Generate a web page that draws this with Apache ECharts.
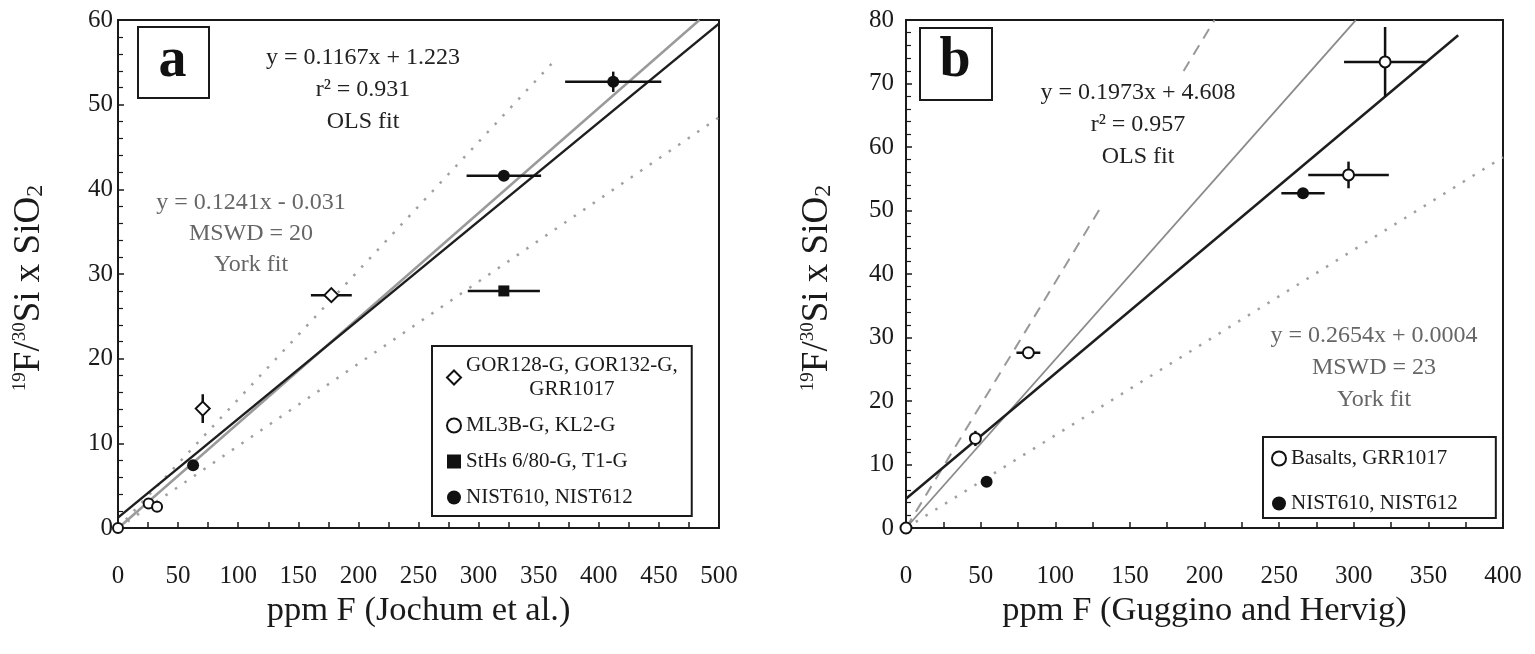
<!DOCTYPE html>
<html><head><meta charset="utf-8">
<script src="https://cdn.jsdelivr.net/npm/echarts@6/dist/echarts.min.js"></script>
<style>html,body{margin:0;padding:0;background:#fff}#c{width:1535px;height:654px}</style>
</head><body><div id="c"></div><script>
// ---------- data: [x, y, xErr, yErr] ----------
const aGOR   = [[70.5, 14.1, 0, 1.7], [177.5, 27.5, 17, 0]];
const aML    = [[0, 0, 0, 0], [25.5, 2.9, 0, 0], [32.5, 2.5, 0, 0]];
const aStHs  = [[321, 28.0, 30, 0]];
const aNIST  = [[62.5, 7.4, 0, 0], [321, 41.6, 31, 0], [412, 52.7, 40, 1.2]];
const bBasalts = [[0, 0, 0, 0], [46.5, 14.1, 0, 1.2], [82, 27.6, 8, 0], [296.5, 55.6, 27, 2.1], [321, 73.4, 27.5, 5.5]];
const bNIST  = [[54, 7.3, 0, 0], [266, 52.7, 14.5, 0]];
// fit / reference lines: [slope, intercept, xFrom, xTo]
const aOLS   = [0.1167, 1.223, 0, 500];
const aYork  = [0.1241, -0.031, 0.3, 483.7];
const aUpper = [0.152, 0, 0, 364];
const aLower = [0.097, 0, 0, 500];
const bOLS   = [0.1973, 4.608, 0, 370];
const bYork  = [0.2654, 0.0004, 0, 301.4];
const bDashA = [0.387, 0, 0, 131];
const bDashB = [0.387, 0, 186, 206.7];
const bDot   = [0.146, 0, 0, 400];
// axis ranges: [min, max, interval]
const aX = [0, 500, 50], aY = [0, 60, 10];
const bX = [0, 400, 50], bY = [0, 80, 10];
const names = ['GOR128-G, GOR132-G, GRR1017', 'ML3B-G, KL2-G', 'StHs 6/80-G, T1-G', 'NIST610, NIST612', 'Basalts, GRR1017'];
const aOLSText  = 'y = 0.1167x + 1.223\nr² = 0.931\nOLS fit';
const aYorkText = 'y = 0.1241x - 0.031\nMSWD = 20\nYork fit';
const bOLSText  = 'y = 0.1973x + 4.608\nr² = 0.957\nOLS fit';
const bYorkText = 'y = 0.2654x + 0.0004\nMSWD = 23\nYork fit';
const xTitles = ['ppm F (Jochum et al.)', 'ppm F (Guggino and Hervig)'];
const yTitle = '{s|19}F/{s|30}Si x SiO{b|2}';

const FONT = '"Liberation Serif", "DejaVu Serif", serif';
const INK = '#1a1a1a';

function seg(f) { return [[f[2], f[0] * f[2] + f[1]], [f[3], f[0] * f[3] + f[1]]]; }

function mkX(r, gi, name) {
  return {
    type: 'value', gridIndex: gi, min: r[0], max: r[1], interval: r[2],
    name: name, nameLocation: 'middle', nameGap: 53,
    nameTextStyle: { fontFamily: FONT, fontSize: 34.5, color: INK },
    axisLine: { show: true, onZero: false, lineStyle: { color: INK, width: 2 } },
    axisTick: { show: true, inside: true, length: 6, lineStyle: { color: INK, width: 1.5 } },
    minorTick: { show: true, splitNumber: 2, length: 6, lineStyle: { color: INK, width: 1.5 } },
    splitLine: { show: false },
    axisLabel: { margin: 36, fontFamily: FONT, fontSize: 25, color: INK }
  };
}
function mkY(r, gi, margin) {
  return {
    type: 'value', gridIndex: gi, min: r[0], max: r[1], interval: r[2],
    name: yTitle, nameLocation: 'middle', nameGap: 70, nameRotate: 90,
    nameTextStyle: { fontFamily: FONT, fontSize: 37, color: INK, padding: [0, 28, 0, 0],
      rich: { s: { fontFamily: FONT, fontSize: 19, verticalAlign: 'top', color: INK, lineHeight: 37 },
              b: { fontFamily: FONT, fontSize: 24, verticalAlign: 'bottom', color: INK, lineHeight: 37 } } },
    axisLine: { show: true, onZero: false, lineStyle: { color: INK, width: 2 } },
    axisTick: { show: true, inside: true, length: 6, lineStyle: { color: INK, width: 1.5 } },
    minorTick: { show: true, splitNumber: 5, length: 5, lineStyle: { color: INK, width: 1.2 } },
    splitLine: { show: false },
    axisLabel: { margin: margin, fontFamily: FONT, fontSize: 25, color: INK }
  };
}
function lineSeries(f, gi, color, width, type) {
  return {
    type: 'line', xAxisIndex: gi, yAxisIndex: gi, data: seg(f), showSymbol: false, silent: true,
    symbol: 'none', z: 3, clip: true,
    lineStyle: { color: color, width: width, type: type || 'solid', cap: 'butt' }
  };
}
function errRender(params, api) {
  const x = api.value(0), y = api.value(1), ex = api.value(2), ey = api.value(3);
  const ch = [];
  const st = { stroke: '#111', lineWidth: 2.5 };
  if (ex > 0) {
    const p1 = api.coord([x - ex, y]), p2 = api.coord([x + ex, y]);
    ch.push({ type: 'line', shape: { x1: p1[0], y1: p1[1], x2: p2[0], y2: p2[1] }, style: st });
  }
  if (ey > 0) {
    const p1 = api.coord([x, y - ey]), p2 = api.coord([x, y + ey]);
    ch.push({ type: 'line', shape: { x1: p1[0], y1: p1[1], x2: p2[0], y2: p2[1] }, style: st });
  }
  return { type: 'group', children: ch };
}
function errSeries(data, gi) {
  return { type: 'custom', xAxisIndex: gi, yAxisIndex: gi, data: data, renderItem: errRender, silent: true, z: 4 };
}
function scat(name, data, gi, symbol, size) {
  const filled = symbol.indexOf('empty') !== 0;
  return {
    type: 'scatter', name: name, xAxisIndex: gi, yAxisIndex: gi, symbol: symbol, symbolSize: size,
    data: data.map(d => [d[0], d[1]]), clip: false, z: 5, silent: true,
    itemStyle: { color: '#111', borderColor: '#111', borderWidth: filled ? 0 : 2.5, opacity: 1 }
  };
}
function legendFmt(name) {
  const p = name.split(', ');
  if (p.length > 2) return '{c|' + p.slice(0, 2).join(', ') + ',}\n{c|' + p.slice(2).join(', ') + '}';
  return '{n|' + name + '}';
}
const legendText = {
  fontFamily: FONT, fontSize: 21, color: INK,
  rich: { c: { fontFamily: FONT, fontSize: 21, color: INK, lineHeight: 24, align: 'center' },
          n: { fontFamily: FONT, fontSize: 21, color: INK } }
};

const chart = echarts.init(document.getElementById('c'));
chart.setOption({
  backgroundColor: '#fff',
  animation: false,
  grid: [
    { left: 118, top: 20, width: 601, height: 508, show: true, borderColor: INK, borderWidth: 2, backgroundColor: 'transparent' },
    { left: 906, top: 20, width: 597, height: 508, show: true, borderColor: INK, borderWidth: 2, backgroundColor: 'transparent' }
  ],
  xAxis: [mkX(aX, 0, xTitles[0]), mkX(bX, 1, xTitles[1])],
  yAxis: [mkY(aY, 0, 5), mkY(bY, 1, 12)],
  legend: [
    { orient: 'vertical', left: 432, top: 346, data: names.slice(0, 4), formatter: legendFmt,
      itemWidth: 14, itemHeight: 14, itemGap: 15, padding: [9, 14, 8, 14],
      borderColor: INK, borderWidth: 2, backgroundColor: '#fff', textStyle: legendText, selectedMode: false },
    { orient: 'vertical', left: 1263, top: 437, data: [names[4], names[3]], formatter: legendFmt,
      itemWidth: 14, itemHeight: 14, itemGap: 24, padding: [11, 38, 4, 8],
      borderColor: INK, borderWidth: 2, backgroundColor: '#fff', textStyle: legendText, selectedMode: false }
  ],
  graphic: [
    { type: 'rect', left: 137, top: 26, shape: { width: 71, height: 71 }, style: { fill: '#fff', stroke: INK, lineWidth: 2 }, z: 10 },
    { type: 'text', x: 172.5, y: 62, style: { text: 'a', font: 'bold 56px ' + FONT, align: 'center', verticalAlign: 'middle', fill: '#111' }, z: 11 },
    { type: 'rect', left: 919, top: 27, shape: { width: 72, height: 72 }, style: { fill: '#fff', stroke: INK, lineWidth: 2 }, z: 10 },
    { type: 'text', x: 955, y: 62, style: { text: 'b', font: 'bold 56px ' + FONT, align: 'center', verticalAlign: 'middle', fill: '#111' }, z: 11 },
    { type: 'text', x: 363, y: 90, style: { text: aOLSText, font: '24px ' + FONT, lineHeight: 32, align: 'center', verticalAlign: 'middle', fill: '#222' }, z: 11 },
    { type: 'text', x: 251, y: 234, style: { text: aYorkText, font: '24px ' + FONT, lineHeight: 31, align: 'center', verticalAlign: 'middle', fill: '#666' }, z: 11 },
    { type: 'text', x: 1138, y: 125, style: { text: bOLSText, font: '24px ' + FONT, lineHeight: 32, align: 'center', verticalAlign: 'middle', fill: '#222' }, z: 11 },
    { type: 'text', x: 1374, y: 368, style: { text: bYorkText, font: '24px ' + FONT, lineHeight: 32, align: 'center', verticalAlign: 'middle', fill: '#666' }, z: 11 }
  ],
  series: [
    lineSeries(aUpper, 0, '#a0a0a0', 2.5, [2.5, 9]),
    lineSeries(aLower, 0, '#a0a0a0', 2.5, [2.5, 9]),
    lineSeries(aYork, 0, '#9a9a9a', 2.5),
    lineSeries(aOLS, 0, '#1e1e1e', 2.5),
    lineSeries(bDashA, 1, '#999', 2, [11, 8]),
    lineSeries(bDashB, 1, '#999', 2, [11, 8]),
    lineSeries(bDot, 1, '#a0a0a0', 2.5, [2.5, 9]),
    lineSeries(bYork, 1, '#8a8a8a', 1.8),
    lineSeries(bOLS, 1, '#1e1e1e', 2.5),
    errSeries(aGOR.concat(aML, aStHs, aNIST), 0),
    errSeries(bBasalts.concat(bNIST), 1),
    scat(names[0], aGOR, 0, 'emptyDiamond', 14),
    scat(names[1], aML, 0, 'emptyCircle', 10),
    scat(names[2], aStHs, 0, 'rect', 11),
    scat(names[3], aNIST, 0, 'circle', 12),
    scat(names[4], bBasalts, 1, 'emptyCircle', 11),
    scat(names[3], bNIST, 1, 'circle', 12)
  ]
});
</script></body></html>
